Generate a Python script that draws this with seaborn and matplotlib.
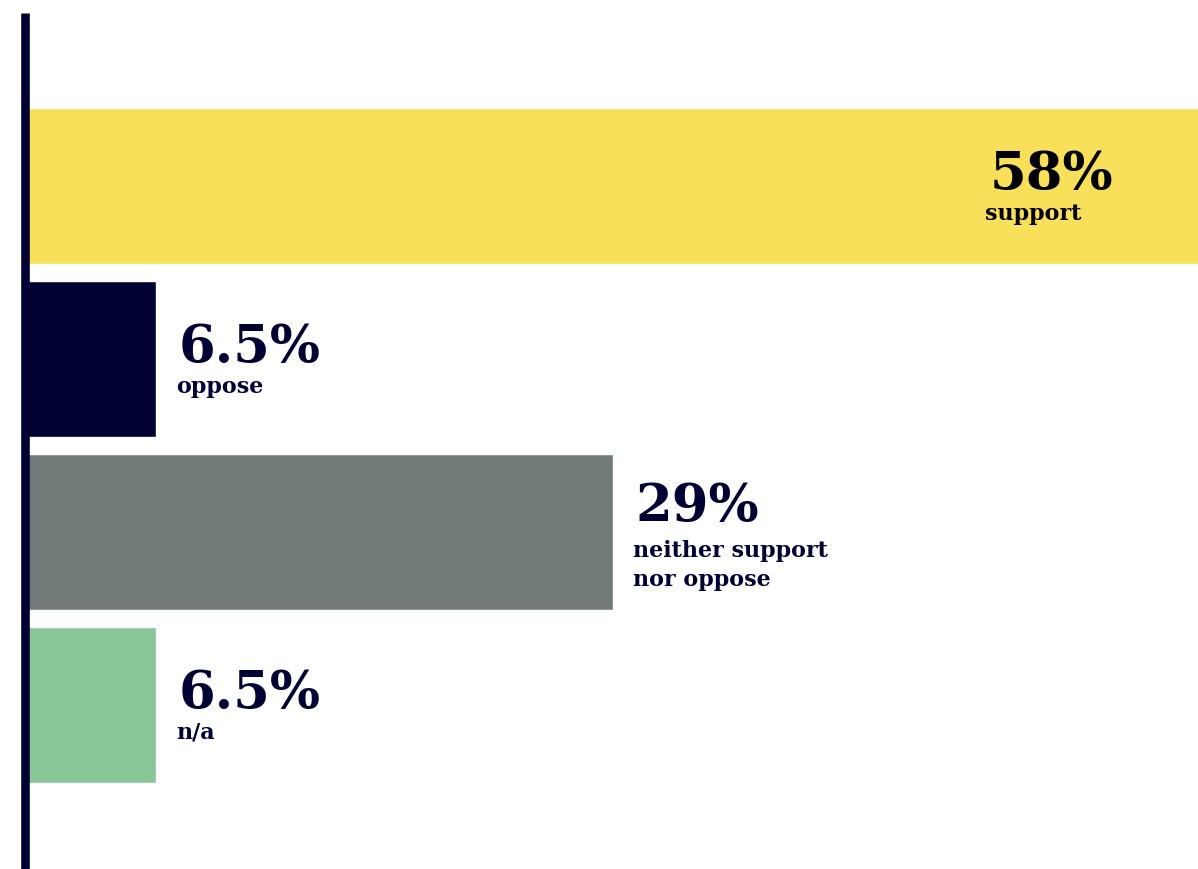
import matplotlib
matplotlib.use("Agg")
import matplotlib.pyplot as plt
import matplotlib.transforms as mtransforms
import seaborn as sns
import pandas as pd

# Survey responses
categories = ["support", "oppose", "neither support\nnor oppose", "n/a"]
values = [58, 6.5, 29, 6.5]
value_labels = ["58%", "6.5%", "29%", "6.5%"]
colors = ["#F9E05A", "#000033", "#737A7A", "#88C597"]

NAVY = "#000033"

sns.set_theme(style="white")
plt.rcParams["font.family"] = ["DejaVu Serif"]

df = pd.DataFrame({"category": categories, "value": values})

fig = plt.figure(figsize=(11.98, 8.70), dpi=100)
ax = fig.add_axes([24.5 / 1198, 0, 1 - 24.5 / 1198, 1])

sns.barplot(data=df, x="value", y="category", hue="category", palette=colors,
            orient="h", width=0.9, legend=False, ax=ax, saturation=1)

ax.set_xlim(0, 57.83)
ax.set_ylim(3.95, -1.081)
ax.set_xlabel("")
ax.set_ylabel("")
ax.set_xticks([])
ax.set_yticks([])
for side in ["top", "right", "bottom"]:
    ax.spines[side].set_visible(False)
ax.spines["left"].set_color(NAVY)
ax.spines["left"].set_linewidth(6.2)
ax.spines["left"].set_zorder(5)
ax.spines["left"].set_bounds(-1.0, 3.95)
ax.spines["left"].set_capstyle("butt")

for i, (cat, val, lab) in enumerate(zip(categories, values, value_labels)):
    extra = cat.count("\n")
    inside = val > 50
    txt_color = "black" if inside else NAVY
    if inside:
        xy = (1.0, i)
        coords = mtransforms.blended_transform_factory(ax.transAxes, ax.transData)
        dx_val, dx_sub = -208, -213
    else:
        xy = (val, i)
        coords = ax.transData
        dx_val, dx_sub = 22, 20
    ax.annotate(lab, xy=xy, xycoords=coords,
                xytext=(dx_val, -2 + 14 * extra), textcoords="offset pixels",
                ha="left", va="baseline", fontsize=38, fontweight="bold",
                color=txt_color)
    ax.annotate(cat, xy=xy, xycoords=coords,
                xytext=(dx_sub, -16 + 9 * extra),
                textcoords="offset pixels",
                ha="left", va="top", fontsize=16, fontweight="bold",
                color=txt_color, linespacing=1.45)

fig.savefig("out.png", dpi=100, facecolor="white")
